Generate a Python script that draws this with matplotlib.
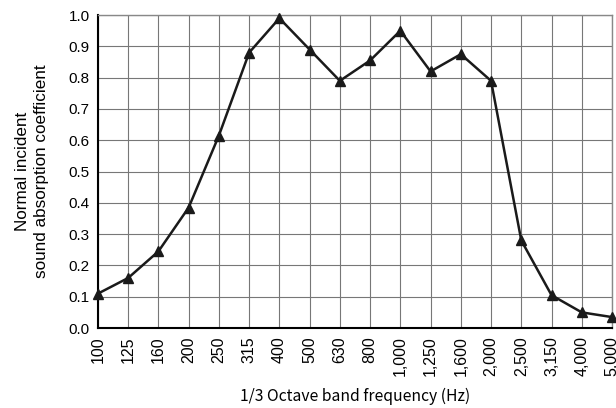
import matplotlib
matplotlib.use("Agg")
import matplotlib.pyplot as plt

freqs = ["100", "125", "160", "200", "250", "315", "400", "500", "630", "800",
         "1,000", "1,250", "1,600", "2,000", "2,500", "3,150", "4,000", "5,000"]
absorption = [0.11, 0.16, 0.245, 0.385, 0.615, 0.88, 0.99, 0.89, 0.79, 0.855,
              0.95, 0.82, 0.875, 0.79, 0.28, 0.105, 0.05, 0.035]
yticks = [0.0, 0.1, 0.2, 0.3, 0.4, 0.5, 0.6, 0.7, 0.8, 0.9, 1.0]

plt.rcParams["font.family"] = ["Liberation Sans", "DejaVu Sans"]

fig = plt.figure(figsize=(6.16, 4.08), dpi=100)
ax = fig.add_axes([0.159, 0.196, 0.8345, 0.767])

xs = list(range(len(freqs)))
ax.plot(xs, absorption, color="#1a1a1a", linewidth=1.8, marker="^",
        markersize=7.5, zorder=3, clip_on=False)

ax.set_xlim(0, len(freqs) - 1)
ax.set_ylim(0, 1.0)
ax.set_xticks(xs)
ax.set_xticklabels(freqs, rotation=90, fontsize=11.5)
ax.set_yticks(yticks)
ax.set_yticklabels(["%.1f" % v for v in yticks], fontsize=11)
ax.tick_params(length=0, pad=6)

ax.grid(True, color="#777777", linewidth=0.8)
ax.set_axisbelow(True)
for side in ["top", "right"]:
    ax.spines[side].set_color("#888888")
    ax.spines[side].set_linewidth(1.0)
for side in ["left", "bottom"]:
    ax.spines[side].set_color("black")
    ax.spines[side].set_linewidth(1.5)

ax.set_ylabel("Normal incident\nsound absorption coefficient", fontsize=12.3,
              labelpad=14, linespacing=1.3)
ax.set_xlabel("1/3 Octave band frequency (Hz)", fontsize=11.3, labelpad=8,
              family=["Noto Sans CJK JP", "DejaVu Sans"])

fig.savefig("out.png", dpi=100)
